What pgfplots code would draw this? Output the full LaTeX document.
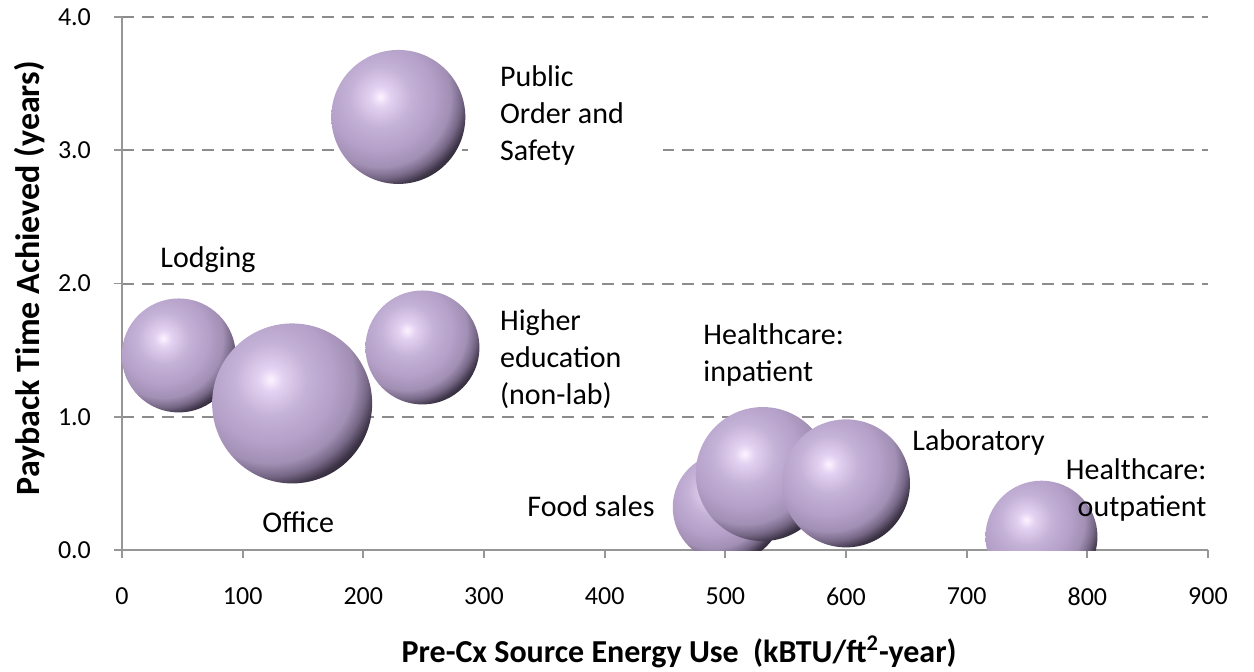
\documentclass[border=0pt]{standalone}
\usepackage{pgfplots}
\usepackage{pgfplotstable}
\pgfplotsset{compat=1.18}
\usepackage{fontspec}
\setmainfont{Carlito}
\definecolor{axgray}{RGB}{150,150,150}
\definecolor{gridgray}{RGB}{140,140,140}
\definecolor{sp0}{RGB}{253,243,255}
\definecolor{sp1}{RGB}{228,210,242}
\definecolor{sp2}{RGB}{197,178,215}
\definecolor{sp3}{RGB}{180,160,200}
\definecolor{sp4}{RGB}{162,143,180}
\definecolor{sp5}{RGB}{118,103,134}
\definecolor{sp6}{RGB}{62,53,72}
\definecolor{sp7}{RGB}{40,34,48}
\pgfdeclareradialshading{sphere}{\pgfpointorigin}{%
  color(0bp)=(sp0); color(5bp)=(sp1); color(15.5bp)=(sp2); color(27.5bp)=(sp3);
  color(36bp)=(sp4); color(41.5bp)=(sp5); color(46bp)=(sp6); color(50bp)=(sp7)}
\pgfdeclareplotmark{sphere}{%
  \pgfscope
  \pgfpathcircle{\pgfpointorigin}{\pgfplotmarksize}%
  \pgfusepath{clip}%
  \pgftransformshift{\pgfpoint{-0.27\pgfplotmarksize}{0.3\pgfplotmarksize}}%
  \pgfmathparse{1.45*\pgfplotmarksize/50}%
  \pgftransformscale{\pgfmathresult}%
  \pgflowlevelsynccm
  \pgfuseshading{sphere}%
  \endpgfscope}
\tikzset{lbl/.style={font=\fontsize{15}{18.5}\selectfont, text=black, inner sep=0pt}}
\pgfplotstableread{
x y r
47 1.46 28.5
141 1.10 40
249 1.52 28.5
229 3.25 33.5
502 0.32 27.5
531 0.57 33.5
600 0.50 32
762 0.10 28
}\bubbles
\begin{document}
\begin{tikzpicture}
\useasboundingbox (-61pt,-60.5pt) rectangle (566pt,275pt);
\begin{axis}[
  at={(0,0)}, anchor=south west,
  scale only axis, width=543pt, height=266.5pt,
  xmin=0, xmax=900, ymin=0, ymax=4,
  xtick={0,100,...,900}, ytick={0,1,2,3,4},
  axis x line*=bottom, axis y line*=left,
  axis line style={-, draw=axgray, line width=0.9pt},
  tick style={draw=axgray, line width=0.9pt},
  tick align=outside, major tick length=4pt,
  ymajorgrids, grid style={draw=gridgray, line width=1pt, dash pattern=on 6pt off 4pt},
  clip marker paths=true,
  /pgf/number format/assume math mode=true,
  ticklabel style={font=\fontsize{13}{15}\selectfont, text=black},
  yticklabel style={/pgf/number format/fixed, /pgf/number format/fixed zerofill, /pgf/number format/precision=1},
  xticklabel style={/pgf/number format/fixed, /pgf/number format/precision=0},
  xticklabel shift=11.5pt, yticklabel shift=8pt,
  xlabel={Pre-Cx Source Energy Use\ \ (kBTU/ft\textsuperscript{2}-year)},
  ylabel={Payback Time Achieved (years)},
  xlabel style={font=\bfseries\fontsize{16}{19}\selectfont, at={(axis description cs:0.513,-0.191)}, anchor=center},
  ylabel style={font=\bfseries\fontsize{17}{20}\selectfont, at={(axis description cs:-0.0847,0.51)}, anchor=center},
]
\addplot[scatter, only marks, mark=sphere,
  scatter/use mapped color={draw=none},
  visualization depends on={\thisrow{r} \as \rad},
  scatter/@pre marker code/.append style={/tikz/mark size=\rad},
] table[x=x,y=y] {\bubbles};
\fill[white] (axis cs:287,2.85) rectangle (axis cs:448,3.65);
\node[lbl, anchor=west, align=left] at (axis cs:313,3.26) {Public\\Order and\\Safety};
\node[lbl, anchor=west] at (axis cs:31.5,2.18) {Lodging};
\node[lbl, anchor=center] at (axis cs:146,0.21) {Office};
\node[lbl, anchor=west, align=left] at (axis cs:313,1.43) {Higher\\education\\(non-lab)};
\node[lbl, anchor=west, align=left] at (axis cs:481.5,1.46) {Healthcare:\\inpatient};
\node[lbl, anchor=west] at (axis cs:654.7,0.81) {Laboratory};
\node[lbl, anchor=east] at (axis cs:441.7,0.33) {Food sales};
\node[lbl, anchor=east, align=right] at (axis cs:899,0.45) {Healthcare:\\outpatient};
\end{axis}
\end{tikzpicture}
\end{document}
